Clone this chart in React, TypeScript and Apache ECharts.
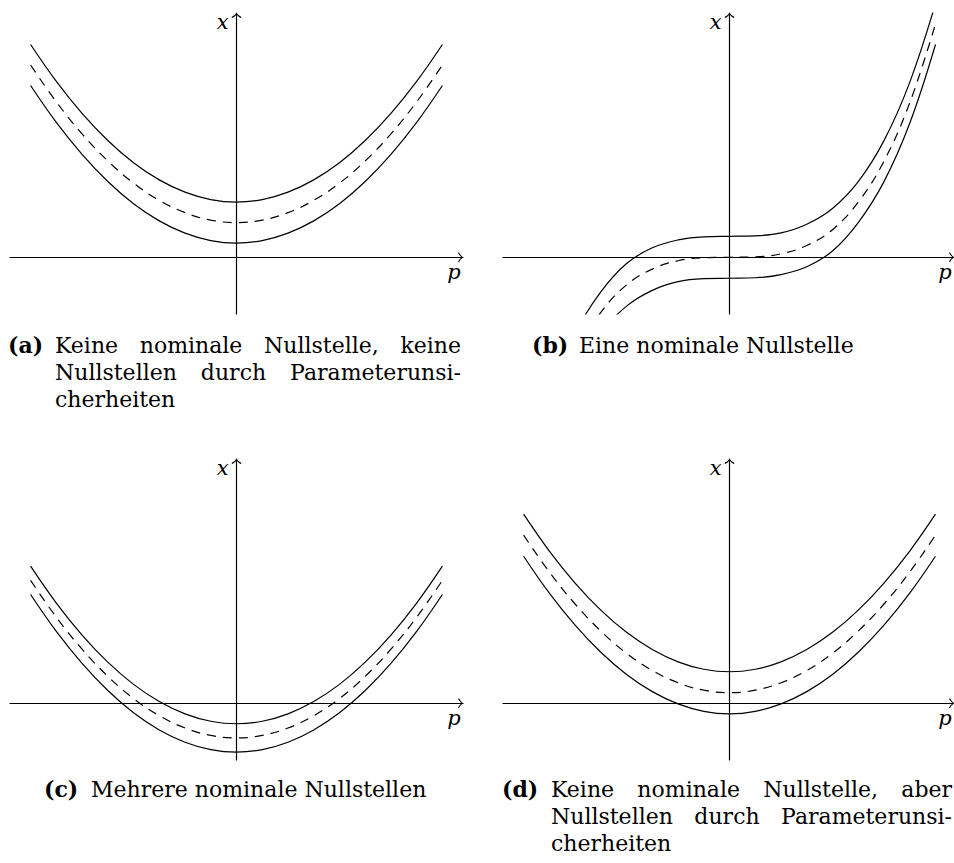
import React, { useEffect, useRef } from 'react';
import * as echarts from 'echarts';

// ---------- data ----------
const P = [-1, -0.875, -0.75, -0.625, -0.5, -0.375, -0.25, -0.125, 0, 0.125, 0.25, 0.375, 0.5, 0.625, 0.75, 0.875, 1];

// (a) keine nominale Nullstelle, keine Nullstellen durch Unsicherheiten
const A_UPPER = [1.35, 1.116, 0.913, 0.741, 0.6, 0.491, 0.413, 0.366, 0.35, 0.366, 0.413, 0.491, 0.6, 0.741, 0.913, 1.116, 1.35];
const A_NOMINAL = [1.22, 0.986, 0.783, 0.611, 0.47, 0.361, 0.283, 0.236, 0.22, 0.236, 0.283, 0.361, 0.47, 0.611, 0.783, 0.986, 1.22];
const A_LOWER = [1.09, 0.856, 0.653, 0.481, 0.34, 0.231, 0.153, 0.106, 0.09, 0.106, 0.153, 0.231, 0.34, 0.481, 0.653, 0.856, 1.09];

// (b) eine nominale Nullstelle
const B_UPPER = [-1.35, -0.85, -0.48, -0.22, -0.04, 0.06, 0.11, 0.13, 0.133, 0.136, 0.155, 0.21, 0.31, 0.48, 0.74, 1.11, 1.61];
const B_NOMINAL = [-1.48, -0.98, -0.61, -0.35, -0.175, -0.075, -0.022, -0.003, 0, 0.003, 0.022, 0.075, 0.175, 0.35, 0.61, 0.98, 1.48];
const B_LOWER = [-1.61, -1.11, -0.74, -0.48, -0.31, -0.21, -0.155, -0.136, -0.133, -0.13, -0.11, -0.06, 0.04, 0.22, 0.48, 0.85, 1.35];

// (c) mehrere nominale Nullstellen
const C_UPPER = [0.87, 0.636, 0.433, 0.261, 0.12, 0.011, -0.067, -0.114, -0.13, -0.114, -0.067, 0.011, 0.12, 0.261, 0.433, 0.636, 0.87];
const C_NOMINAL = [0.78, 0.546, 0.343, 0.171, 0.03, -0.079, -0.157, -0.204, -0.22, -0.204, -0.157, -0.079, 0.03, 0.171, 0.343, 0.546, 0.78];
const C_LOWER = [0.69, 0.456, 0.253, 0.081, -0.06, -0.169, -0.247, -0.294, -0.31, -0.294, -0.247, -0.169, -0.06, 0.081, 0.253, 0.456, 0.69];

// (d) keine nominale Nullstelle, aber Nullstellen durch Unsicherheiten
const D_UPPER = [1.2, 0.966, 0.763, 0.591, 0.45, 0.341, 0.263, 0.216, 0.2, 0.216, 0.263, 0.341, 0.45, 0.591, 0.763, 0.966, 1.2];
const D_NOMINAL = [1.067, 0.833, 0.63, 0.458, 0.317, 0.208, 0.13, 0.083, 0.067, 0.083, 0.13, 0.208, 0.317, 0.458, 0.63, 0.833, 1.067];
const D_LOWER = [0.933, 0.699, 0.496, 0.324, 0.183, 0.074, -0.004, -0.051, -0.067, -0.051, -0.004, 0.074, 0.183, 0.324, 0.496, 0.699, 0.933];

// axis ranges and names
const P_RANGE_LEFT = [-1.1, 1.1];
const P_RANGE_RIGHT = [-1.1, 1.09];
const X_RANGE = [-0.36, 1.55];
const H_AXIS_NAME = 'p';
const V_AXIS_NAME = 'x';

// captions
const CAPTION_LABELS = ['(a)', '(b)', '(c)', '(d)'];
const CAPTION_A = ['Keine nominale Nullstelle, keine', 'Nullstellen durch Parameterunsi-', 'cherheiten'];
const CAPTION_B = ['Eine nominale Nullstelle'];
const CAPTION_C = ['Mehrere nominale Nullstellen'];
const CAPTION_D = ['Keine nominale Nullstelle, aber', 'Nullstellen durch Parameterunsi-', 'cherheiten'];

// ---------- layout / style ----------
const SERIF = '"DejaVu Serif", serif';
const CAP_SIZE = 22;
const LINE_STEP = 27;
const BASELINE_SHIFT = 7.6;
const ARROW = 'path://M5,0 Q7,2.6 10,4 L9.3,5 Q6.8,3.6 5,1.4 Q3.2,3.6 0.7,5 L0,4 Q3,2.6 5,0 Z';

const PANELS = [
  { left: 10, top: 13, width: 453, range: P_RANGE_LEFT, curves: [A_UPPER, A_NOMINAL, A_LOWER] },
  { left: 503, top: 13, width: 451, range: P_RANGE_RIGHT, curves: [B_UPPER, B_NOMINAL, B_LOWER] },
  { left: 10, top: 459, width: 453, range: P_RANGE_LEFT, curves: [C_UPPER, C_NOMINAL, C_LOWER] },
  { left: 503, top: 459, width: 451, range: P_RANGE_RIGHT, curves: [D_UPPER, D_NOMINAL, D_LOWER] },
];
const PANEL_HEIGHT = 301;

const CAPTIONS = [
  { lines: CAPTION_A, labelX: 8, textX: 55, right: 461, baseline: 353, justify: true },
  { lines: CAPTION_B, labelX: 532, textX: 579, right: 0, baseline: 353, justify: false },
  { lines: CAPTION_C, labelX: 44, textX: 91, right: 0, baseline: 797, justify: false },
  { lines: CAPTION_D, labelX: 502, textX: 551, right: 952, baseline: 797, justify: true },
];

function textEl(text: string, x: number, baseline: number, bold: boolean) {
  return {
    type: 'text',
    x,
    y: baseline - BASELINE_SHIFT,
    silent: true,
    style: {
      text,
      fontSize: CAP_SIZE,
      fontFamily: SERIF,
      fontWeight: bold ? 'bold' : 'normal',
      fill: '#000',
      align: 'left',
      textAlign: 'left',
      verticalAlign: 'middle',
      textVerticalAlign: 'middle',
    },
  };
}

function buildCaptions() {
  const canvas = document.createElement('canvas');
  const ctx = canvas.getContext('2d')!;
  ctx.font = `${CAP_SIZE}px ${SERIF}`;
  const els: any[] = [];
  CAPTIONS.forEach((cap, ci) => {
    els.push(textEl(CAPTION_LABELS[ci], cap.labelX, cap.baseline, true));
    cap.lines.forEach((line, li) => {
      const baseline = cap.baseline + li * LINE_STEP;
      const isLast = li === cap.lines.length - 1;
      if (cap.justify && !isLast) {
        const words = line.split(' ');
        const widths = words.map((w) => ctx.measureText(w).width);
        const total = widths.reduce((s, w) => s + w, 0);
        const gap = (cap.right - cap.textX - total) / (words.length - 1);
        let x = cap.textX;
        words.forEach((w, wi) => {
          els.push(textEl(w, x, baseline, false));
          x += widths[wi] + gap;
        });
      } else {
        els.push(textEl(line, cap.textX, baseline, false));
      }
    });
  });
  return els;
}

export default function App() {
  const ref = useRef<HTMLDivElement>(null);

  useEffect(() => {
    if (!ref.current) return;
    const chart = echarts.init(ref.current, null, { renderer: 'svg' });

    const axisLine = {
      show: true,
      onZero: true,
      symbol: ['none', ARROW],
      symbolSize: [10, 5],
      symbolOffset: [0, -2.5],
      lineStyle: { color: '#000', width: 1.2 },
    };
    const nameStyleBase = { fontFamily: SERIF, fontStyle: 'italic', fontSize: 21, color: '#000' };

    const grid = PANELS.map((p) => ({ left: p.left, top: p.top, width: p.width, height: PANEL_HEIGHT, containLabel: false }));
    const xAxis = PANELS.map((p, i) => ({
      type: 'value',
      gridIndex: i,
      min: p.range[0],
      max: p.range[1],
      axisLine,
      axisTick: { show: false },
      axisLabel: { show: false },
      splitLine: { show: false },
      name: H_AXIS_NAME,
      nameLocation: 'end',
      nameGap: -9,
      nameTextStyle: { ...nameStyleBase, align: 'center', verticalAlign: 'top', padding: [4, 0, 0, 0] },
    }));
    const yAxis = PANELS.map((p, i) => ({
      type: 'value',
      gridIndex: i,
      min: X_RANGE[0],
      max: X_RANGE[1],
      axisLine,
      axisTick: { show: false },
      axisLabel: { show: false },
      splitLine: { show: false },
      name: V_AXIS_NAME,
      nameLocation: 'end',
      nameGap: -9,
      nameTextStyle: { ...nameStyleBase, align: 'right', verticalAlign: 'middle', padding: [0, 8, 0, 0] },
    }));

    const series: any[] = [];
    PANELS.forEach((p, i) => {
      p.curves.forEach((vals, k) => {
        series.push({
          type: 'line',
          xAxisIndex: i,
          yAxisIndex: i,
          data: P.map((pv, j) => [pv, vals[j]]),
          smooth: 0.4,
          showSymbol: false,
          clip: true,
          silent: true,
          lineStyle: { color: '#000', width: 1.2, type: k === 1 ? [9, 7] : 'solid' },
        });
      });
    });

    chart.setOption({
      animation: false,
      backgroundColor: '#fff',
      grid,
      xAxis,
      yAxis,
      series,
      graphic: buildCaptions(),
    });

    return () => chart.dispose();
  }, []);

  return (
    <div
      ref={ref}
      style={{ position: 'fixed', left: 0, top: 0, width: 954, height: 863, background: '#fff' }}
    />
  );
}
